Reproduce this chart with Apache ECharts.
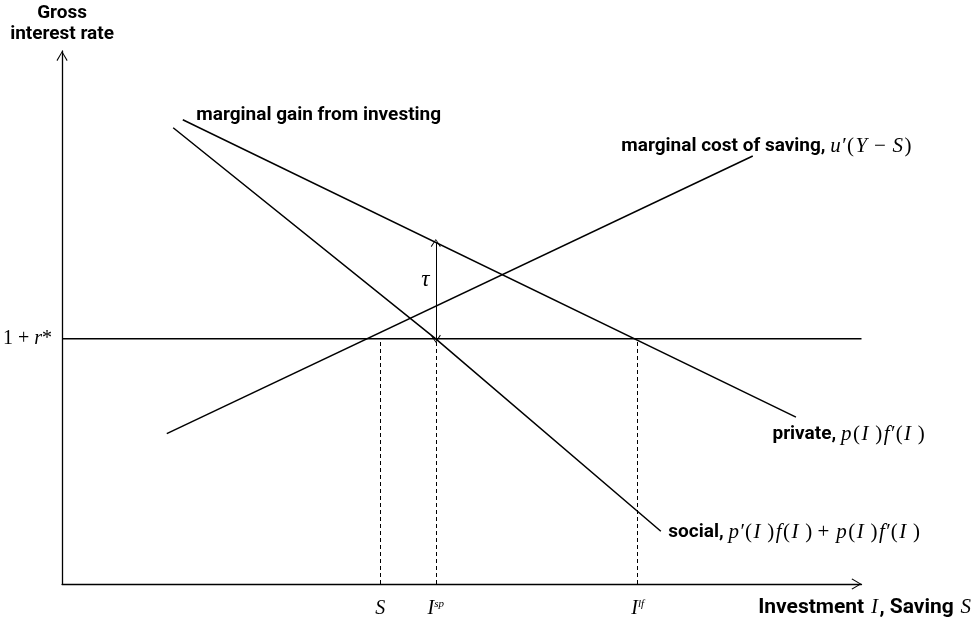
<!DOCTYPE html>
<html>
<head>
<meta charset="utf-8">
<title>Investment and saving</title>
<script src="https://cdn.jsdelivr.net/npm/echarts@6/dist/echarts.min.js"></script>
<style>
  html, body { margin: 0; background: #fff; }
  #main { width: 974px; height: 627px; }
</style>
</head>
<body>
<div id="main"></div>
<script>
// ==================================================
// data (diagram units, both axes run 0..100)
var rateLevel = 46;                                   // 1 + r*
var costCurve = [[13.1, 28.2], [86.4, 80.3]];          // u'(Y - S)
var privateCurve = [[15.1, 87.1], [91.8, 31.3]];       // p(I) f'(I)
var socialCurve = [[13.9, 85.6], [46.75, 46.0], [74.9, 9.9]];
var tickValues = [39.8, 46.75, 72];                    // S, I^sp, I^lf
var tickNames = ['{m|S}', '{m|I}{sup|sp}', '{m|I}{sup|lf}'];
var tauTop = 64.0;                                     // private curve above I^sp
var tauMid = 57;

// ==================================================
// styles
var serif = 'Liberation Serif';
var rich = {
  s: { fontFamily: 'Roboto', fontWeight: 'bold', fontSize: 19, color: '#000' },
  sx: { fontFamily: 'Roboto', fontWeight: 'bold', fontSize: 21, color: '#000' },
  m: { fontFamily: serif, fontStyle: 'italic', fontSize: 20, color: '#000' },
  n: { fontFamily: serif, fontSize: 20, color: '#000' },
  // formula pieces in the curve labels, spaced out a little
  mi: { fontFamily: serif, fontStyle: 'italic', fontSize: 21, color: '#000', padding: [0, 1.5] },
  ni: { fontFamily: serif, fontSize: 21, color: '#000' },
  t: { fontFamily: serif, fontStyle: 'italic', fontSize: 23, color: '#000' },
  sup: { fontFamily: serif, fontStyle: 'italic', fontSize: 11, color: '#000', verticalAlign: 'top' }
};
var arrowPath = 'path://M0,10 L6,0 L12,10 L11,10.8 L6,2 L1,10.8 Z';
var black = '#000';

// label-only mark point (tiny transparent dot carries the text)
function noteItem(coord, text, offset) {
  return {
    coord: coord,
    symbol: 'circle', symbolSize: 1,
    itemStyle: { color: 'rgba(0,0,0,0)' },
    label: { show: true, position: 'right', distance: 0, offset: offset, formatter: text, rich: rich }
  };
}

var chart = echarts.init(document.getElementById('main'));

var option = {
  animation: false,
  grid: { left: 62, right: 112, top: 51, bottom: 43, containLabel: false },
  xAxis: {
    type: 'value', min: 0, max: 100,
    axisLine: { show: true, lineStyle: { color: black, width: 1.3 },
      symbol: ['none', arrowPath], symbolSize: [12, 10], symbolOffset: [0, -5] },
    axisTick: { show: false },
    splitLine: { show: false },
    axisLabel: {
      customValues: tickValues, margin: 15, rich: rich,
      formatter: function (v) {
        for (var i = 0; i < tickValues.length; i++) {
          if (Math.abs(tickValues[i] - v) < 0.01) return tickNames[i];
        }
        return '';
      }
    },
    name: '{sx|Investment }{mi|I}{sx|, Saving }{mi|S}',
    nameLocation: 'end', nameGap: 111,
    nameTextStyle: { align: 'right', verticalAlign: 'top', padding: [13, 0, 0, 0], rich: rich }
  },
  yAxis: {
    type: 'value', min: 0, max: 100,
    axisLine: { show: true, lineStyle: { color: black, width: 1.3 },
      symbol: ['none', arrowPath], symbolSize: [12, 10], symbolOffset: [0, -5] },
    axisTick: { show: false },
    splitLine: { show: false },
    axisLabel: {
      customValues: [rateLevel], margin: 10, rich: rich,
      formatter: function () { return '{n|1 + }{m|r}{n|*}'; }
    },
    name: 'Gross\ninterest rate',
    nameLocation: 'end', nameGap: 6,
    nameTextStyle: { fontFamily: 'Roboto', fontWeight: 'bold', fontSize: 19, lineHeight: 21, color: black, align: 'center' }
  },
  series: [
    {
      name: 'rate', type: 'line', symbol: 'none', silent: true,
      data: [[0, rateLevel], [100, rateLevel]],
      lineStyle: { color: black, width: 1.5 },
      markLine: {
        silent: true, symbol: 'none', animation: false,
        label: { show: false },
        lineStyle: { color: black, width: 1, type: [4, 3] },
        data: tickValues.map(function (v) {
          return [{ coord: [v, 0] }, { coord: [v, rateLevel] }];
        })
      },
      markPoint: { silent: true, data: [noteItem([tickValues[1], tauMid], '{t|τ}', [-15, 0])] }
    },
    {
      name: 'tau', type: 'line', symbol: 'none', silent: true, data: [],
      markLine: {
        silent: true, animation: false,
        symbol: [arrowPath, arrowPath], symbolSize: [10, 8],
        label: { show: false },
        lineStyle: { color: black, width: 1, type: 'solid' },
        data: [[{ coord: [tickValues[1], rateLevel] }, { coord: [tickValues[1], tauTop] }]]
      }
    },
    {
      name: 'cost', type: 'line', symbol: 'none', silent: true,
      data: costCurve,
      lineStyle: { color: black, width: 1.5 },
      markPoint: { silent: true, data: [noteItem(costCurve[1],
        '{s|marginal cost of saving,} {mi|u}{ni|′(}{mi|Y}{ni| − }{mi|S}{ni|)}', [-132, -10])] }
    },
    {
      name: 'private', type: 'line', symbol: 'none', silent: true,
      data: privateCurve,
      lineStyle: { color: black, width: 1.5 },
      markPoint: { silent: true, data: [
        noteItem(privateCurve[1], '{s|private,} {mi|p}{ni|(}{mi|I}{ni| )}{mi|f}{ni|′(}{mi|I}{ni| )}', [-24, 17]),
        noteItem(privateCurve[0], '{s|marginal gain from investing}', [13, -5])
      ] }
    },
    {
      name: 'social', type: 'line', symbol: 'none', silent: true,
      data: socialCurve,
      lineStyle: { color: black, width: 1.5 },
      markPoint: { silent: true, data: [noteItem(socialCurve[2],
        '{s|social,} {mi|p}{ni|′(}{mi|I}{ni| )}{mi|f}{ni|(}{mi|I}{ni| ) + }{mi|p}{ni|(}{mi|I}{ni| )}{mi|f}{ni|′(}{mi|I}{ni| )}', [7, 1])] }
    }
  ]
};

chart.setOption(option);
</script>
</body>
</html>
